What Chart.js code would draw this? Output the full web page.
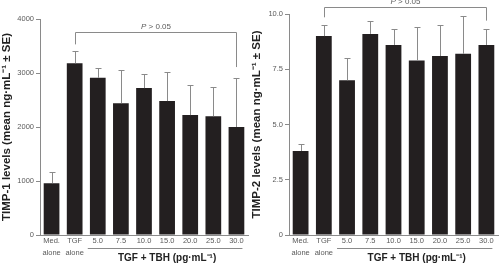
<!DOCTYPE html>
<html>
<head>
  <meta charset="utf-8">
  <title>TIMP-1 and TIMP-2 levels</title>
  <script src="https://cdn.jsdelivr.net/npm/chart.js"></script>
  <style>
    body {
      margin: 0;
      background: #fff;
      font-family: "Liberation Sans", Arial, sans-serif;
    }
    .wrap {
      position: relative;
      width: 500px;
      height: 265px;
    }
    .panel {
      position: absolute;
      top: 0;
      width: 250px;
      height: 265px;
    }
  </style>
</head>
<body>
  <div class="wrap">
    <div class="panel" style="left:0"><canvas id="timp1"></canvas></div>
    <div class="panel" style="left:250px"><canvas id="timp2"></canvas></div>
  </div>

  <script>
    // categories (shared by both panels)
    const categories = [['Med.', 'alone'], ['TGF', 'alone'], '5.0', '7.5', '10.0', '15.0', '20.0', '25.0', '30.0'];

    // TIMP-1 (ng/mL), mean and mean + SE
    const timp1Mean = [960, 3180, 2910, 2440, 2720, 2480, 2220, 2200, 2000];
    const timp1Upper = [1160, 3400, 3100, 3050, 2980, 3020, 2780, 2740, 2900];
    const timp1Ticks = [0, 1000, 2000, 3000, 4000];
    // bracket levels: [line, left end, right end]
    const timp1Bracket = [3760, 3530, 3110];

    // TIMP-2 (ng/mL), mean and mean + SE
    const timp2Mean = [3.8, 9.0, 7.0, 9.1, 8.6, 7.9, 8.1, 8.2, 8.6];
    const timp2Upper = [4.1, 9.5, 8.0, 9.7, 9.3, 9.4, 9.5, 9.9, 9.3];
    const timp2Ticks = [0, 2.5, 5.0, 7.5, 10.0];
    const timp2Bracket = [10.3, 9.85, 9.7];

    const groupLabel = 'TGF + TBH (pg·mL⁻¹)';
    const pLabel = '> 0.05';

    const BAR = '#231f20';
    const GREY = '#8a8a8a';
    const TEXT = '#5a5a5a';
    const FONT = '"Liberation Sans", Arial, sans-serif';

    // draws error bars, the P bracket and the TGF + TBH group label
    const extras = {
      id: 'extras',
      afterDatasetsDraw(chart, args, opts) {
        const ctx = chart.ctx;
        const x = chart.scales.x;
        const y = chart.scales.y;
        ctx.save();
        ctx.strokeStyle = GREY;
        ctx.lineWidth = 1;

        // error bars (upper only)
        opts.upper.forEach((u, i) => {
          const cx = Math.round(x.getPixelForValue(i)) + 0.5;
          const y0 = y.getPixelForValue(opts.mean[i]);
          const y1 = Math.round(y.getPixelForValue(u)) + 0.5;
          ctx.beginPath();
          ctx.moveTo(cx, y0);
          ctx.lineTo(cx, y1);
          ctx.moveTo(cx - 3, y1);
          ctx.lineTo(cx + 3, y1);
          ctx.stroke();
        });

        // bracket TGF alone -> 30.0
        const xa = Math.round(x.getPixelForValue(1)) + 0.5;
        const xb = Math.round(x.getPixelForValue(8)) + 0.5;
        const yl = Math.round(y.getPixelForValue(opts.bracket[0])) + 0.5;
        ctx.beginPath();
        ctx.moveTo(xa, y.getPixelForValue(opts.bracket[1]));
        ctx.lineTo(xa, yl);
        ctx.lineTo(xb, yl);
        ctx.lineTo(xb, y.getPixelForValue(opts.bracket[2]));
        ctx.stroke();

        ctx.fillStyle = TEXT;
        ctx.textBaseline = 'alphabetic';
        const mid = (xa + xb) / 2;
        ctx.font = 'italic 8px ' + FONT;
        const pw = ctx.measureText('P ').width;
        ctx.font = '8px ' + FONT;
        const rw = ctx.measureText(pLabel).width;
        const start = mid - (pw + rw) / 2;
        ctx.textAlign = 'left';
        ctx.font = 'italic 8px ' + FONT;
        ctx.fillText('P ', start, yl - 4);
        ctx.font = '8px ' + FONT;
        ctx.fillText(pLabel, start + pw, yl - 4);

        // underline under the TGF + TBH concentrations
        const xc = x.getPixelForValue(2) - 10;
        const xd = x.getPixelForValue(8) + 6;
        const yu = y.bottom + 13.5;
        ctx.beginPath();
        ctx.moveTo(xc, yu);
        ctx.lineTo(xd, yu);
        ctx.stroke();

        ctx.fillStyle = '#222';
        ctx.textAlign = 'center';
        ctx.textBaseline = 'middle';
        ctx.font = 'bold 10px ' + FONT;
        ctx.fillText(groupLabel, (x.getPixelForValue(2) + x.getPixelForValue(8)) / 2, y.bottom + 23.5);
        ctx.restore();
      }
    };

    function makeChart(id, mean, upper, ticks, bracket, title, padTop, axisW, fmt) {
      return new Chart(document.getElementById(id), {
        type: 'bar',
        data: {
          labels: categories,
          datasets: [{
            data: mean,
            backgroundColor: BAR,
            categoryPercentage: 1,
            barPercentage: 0.68
          }]
        },
        options: {
          responsive: false,
          animation: false,
          layout: { padding: { top: padTop, right: 2, left: 0, bottom: 0 } },
          plugins: {
            legend: { display: false },
            tooltip: { enabled: false },
            extras: { mean: mean, upper: upper, bracket: bracket }
          },
          scales: {
            x: {
              grid: { display: false, drawTicks: false },
              border: { display: true, color: GREY },
              ticks: {
                color: TEXT,
                padding: 0,
                maxRotation: 0,
                autoSkip: false,
                font: { family: FONT, size: 7.5, lineHeight: 1.6 }
              },
              afterFit(scale) { scale.height = 30; }
            },
            y: {
              min: 0,
              max: ticks[ticks.length - 1],
              afterBuildTicks(scale) { scale.ticks = ticks.map(v => ({ value: v })); },
              grid: { display: true, drawOnChartArea: false, drawTicks: true, tickLength: 4, color: GREY },
              border: { display: true, color: GREY },
              ticks: {
                color: TEXT,
                padding: 2,
                font: { family: FONT, size: 7.5 },
                callback: fmt
              },
              title: {
                display: true,
                text: title,
                color: '#222',
                padding: { top: 0, bottom: 1 },
                font: { family: FONT, size: 11.5, weight: 'bold' }
              },
              afterFit(scale) { scale.width = axisW; }
            }
          }
        },
        plugins: [extras]
      });
    }

    const c1 = document.getElementById('timp1');
    c1.width = 250; c1.height = 265;
    const c2 = document.getElementById('timp2');
    c2.width = 250; c2.height = 265;

    makeChart('timp1', timp1Mean, timp1Upper, timp1Ticks, timp1Bracket,
      'TIMP-1 levels (mean ng·mL⁻¹ ± SE)', 19, 40, v => String(v));
    makeChart('timp2', timp2Mean, timp2Upper, timp2Ticks, timp2Bracket,
      'TIMP-2 levels (mean ng·mL⁻¹ ± SE)', 14, 39, v => (v === 0 ? '0' : v.toFixed(1)));
  </script>
</body>
</html>
